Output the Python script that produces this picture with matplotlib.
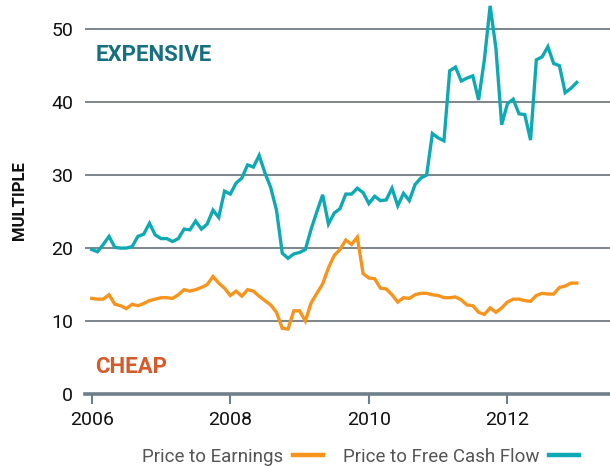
import numpy as np
import matplotlib
matplotlib.use("Agg")
import matplotlib.pyplot as plt

# Monthly data, Jan 2006 .. Jan 2013
start_year = 2006
pe = [13.1, 13.0, 13.0, 13.6, 12.3, 12.1, 11.7, 12.3, 12.1, 12.4,
      12.8, 13.0, 13.2, 13.2, 13.1, 13.6, 14.3, 14.1, 14.3, 14.6,
      15.0, 16.1, 15.2, 14.5, 13.5, 14.1, 13.4, 14.3, 14.1, 13.4,
      12.8, 12.2, 11.2, 9.0, 8.9, 11.4, 11.4, 10.0, 12.5, 13.8,
      15.1, 17.3, 19.0, 19.8, 21.1, 20.5, 21.5, 16.5, 15.9, 15.8,
      14.5, 14.4, 13.6, 12.6, 13.2, 13.1, 13.6, 13.8, 13.8, 13.6,
      13.5, 13.2, 13.2, 13.3, 12.9, 12.2, 12.1, 11.2, 10.9, 11.8,
      11.2, 11.8, 12.6, 13.0, 13.0, 12.8, 12.7, 13.5, 13.8, 13.7,
      13.7, 14.6, 14.8, 15.2, 15.2]
fcf = [19.8, 19.5, 20.5, 21.6, 20.1, 20.0, 20.0, 20.2, 21.6, 21.9,
       23.4, 21.8, 21.3, 21.3, 20.9, 21.3, 22.6, 22.5, 23.7, 22.6,
       23.3, 25.2, 24.2, 27.8, 27.4, 28.9, 29.6, 31.4, 31.1, 32.7,
       30.3, 28.3, 25.2, 19.3, 18.6, 19.2, 19.4, 19.8, 22.6, 25.0,
       27.3, 23.3, 24.8, 25.4, 27.4, 27.4, 28.2, 27.6, 26.1, 27.1,
       26.5, 26.6, 28.2, 25.8, 27.5, 26.5, 28.7, 29.6, 30.0, 35.7,
       35.1, 34.7, 44.3, 44.8, 42.9, 43.3, 43.6, 40.3, 45.8, 53.2,
       47.4, 36.9, 39.8, 40.4, 38.4, 38.3, 34.8, 45.8, 46.2, 47.6,
       45.3, 45.0, 41.3, 41.9, 42.7]
series_labels = ["Price to Earnings", "Price to Free Cash Flow"]
y_ticks = [0, 10, 20, 30, 40, 50]
x_ticks = [2006, 2008, 2010, 2012]

x = start_year + np.arange(len(pe)) / 12.0

plt.rcParams['font.family'] = ['Roboto', 'DejaVu Sans']

fig = plt.figure(figsize=(6.10, 4.68), dpi=100)
ax = fig.add_axes([85/610, 1 - 394/468, 1 - 85/610, 394/468])

grid_c = '#5a656b'
axis_c = '#6e7f89'
teal = '#0fa9b4'
orange = '#f7941d'

for v in y_ticks[1:]:
    ax.axhline(v, color=grid_c, lw=1.1, zorder=1)

ax.plot(x, pe, color=orange, lw=2.4, zorder=3, solid_joinstyle='miter',
        label=series_labels[0])
ax.plot(x, fcf, color=teal, lw=2.4, zorder=3, solid_joinstyle='miter',
        label=series_labels[1])

ax.set_xlim(2005.903, 2013.48)
ax.set_ylim(0, 54.0)
for s in ['top', 'right', 'left']:
    ax.spines[s].set_visible(False)
ax.spines['bottom'].set_color(axis_c)
ax.spines['bottom'].set_linewidth(2.6)
ax.set_xticks(x_ticks)
ax.set_xticklabels([str(t) for t in x_ticks])
ax.set_yticks(y_ticks)
ax.tick_params(axis='x', length=7, width=1.5, color=axis_c, pad=5,
               labelsize=14, labelcolor='#111111')
ax.tick_params(axis='y', length=0, pad=8.5, labelsize=14, labelcolor='#111111')

fig.text(20/610, 1 - 201/468, 'MULTIPLE', rotation=90, fontsize=12,
         fontweight='bold', color='#111111', ha='center', va='center')

ax.text(2006.05, 46.4, 'EXPENSIVE', fontsize=16, fontweight='bold',
        color='#17707f', va='center', ha='left')
ax.text(2006.05, 3.65, 'CHEAP', fontsize=16, fontweight='bold',
        color='#d65a2a', va='center', ha='left')

leg = fig.legend(loc='center', bbox_to_anchor=(0.591, 0.0235), ncol=2,
                 frameon=False, markerfirst=False, fontsize=13.5,
                 handlelength=1.6, columnspacing=1.07, handletextpad=0.53,
                 borderpad=0, borderaxespad=0)
for t in leg.get_texts():
    t.set_color('#555555')
for h in leg.get_lines():
    h.set_linewidth(3.2)

fig.savefig('out.png', dpi=100)
